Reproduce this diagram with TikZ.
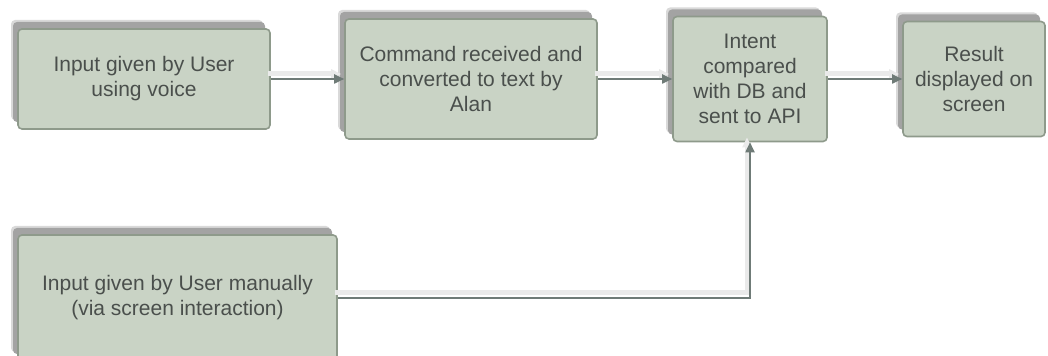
\documentclass[tikz,border=0pt]{standalone}
\usepackage{fontspec}
\setmainfont{Liberation Sans}
\usetikzlibrary{arrows.meta,shadows}
\definecolor{boxfill}{HTML}{C9D3C5}
\definecolor{boxline}{HTML}{8E9A8B}
\definecolor{txt}{HTML}{4A4F4C}
\definecolor{connc}{HTML}{6F7B77}
\definecolor{shd}{HTML}{A3A3A3}
\definecolor{shdlight}{HTML}{D9D9D9}
\definecolor{cshd}{HTML}{EAEAEA}
\begin{document}
\begin{tikzpicture}[x=0.5pt,y=-0.5pt,
  stepbox/.style={draw=boxline, line width=0.8pt, fill=boxfill, rounded corners=2pt,
    align=center, text=txt, font=\fontsize{10.5}{12.5}\selectfont, inner sep=0pt,
    general shadow={fill=shdlight, shadow xshift=-3.5pt, shadow yshift=4.5pt},
    general shadow={fill=shd, shadow xshift=-2.5pt, shadow yshift=3.5pt}},
  conn/.style={draw=connc, line width=0.9pt, -{Triangle[length=5pt,width=4.5pt]},
    preaction={draw=cshd, line width=2.5pt, transform canvas={shift={(-1.5pt,2.5pt)}}}}
]
\useasboundingbox (0,0) rectangle (1048,356);
\node[stepbox, minimum width=126pt, minimum height=50pt] (b1) at (144,79) {Input given by User\\using voice};
\node[stepbox, minimum width=126pt, minimum height=60pt] (b2) at (471,79) {Command received and\\converted to text by\\Alan};
\node[stepbox, minimum width=77pt, minimum height=62.5pt] (b3) at (750,79) {Intent\\compared\\with DB and\\sent to API};
\node[stepbox, minimum width=71pt, minimum height=57.5pt] (b4) at (974,79) {Result\\displayed on\\screen};
\node[stepbox, minimum width=159.5pt, minimum height=63pt] (b5) at (177.5,298) {Input given by User manually\\(via screen interaction)};
\draw[conn] (b1) -- (b2);
\draw[conn] (b2) -- (b3);
\draw[conn] (b3) -- (b4);
\draw[conn] (b5.east) -| (b3.south);
\end{tikzpicture}
\end{document}
